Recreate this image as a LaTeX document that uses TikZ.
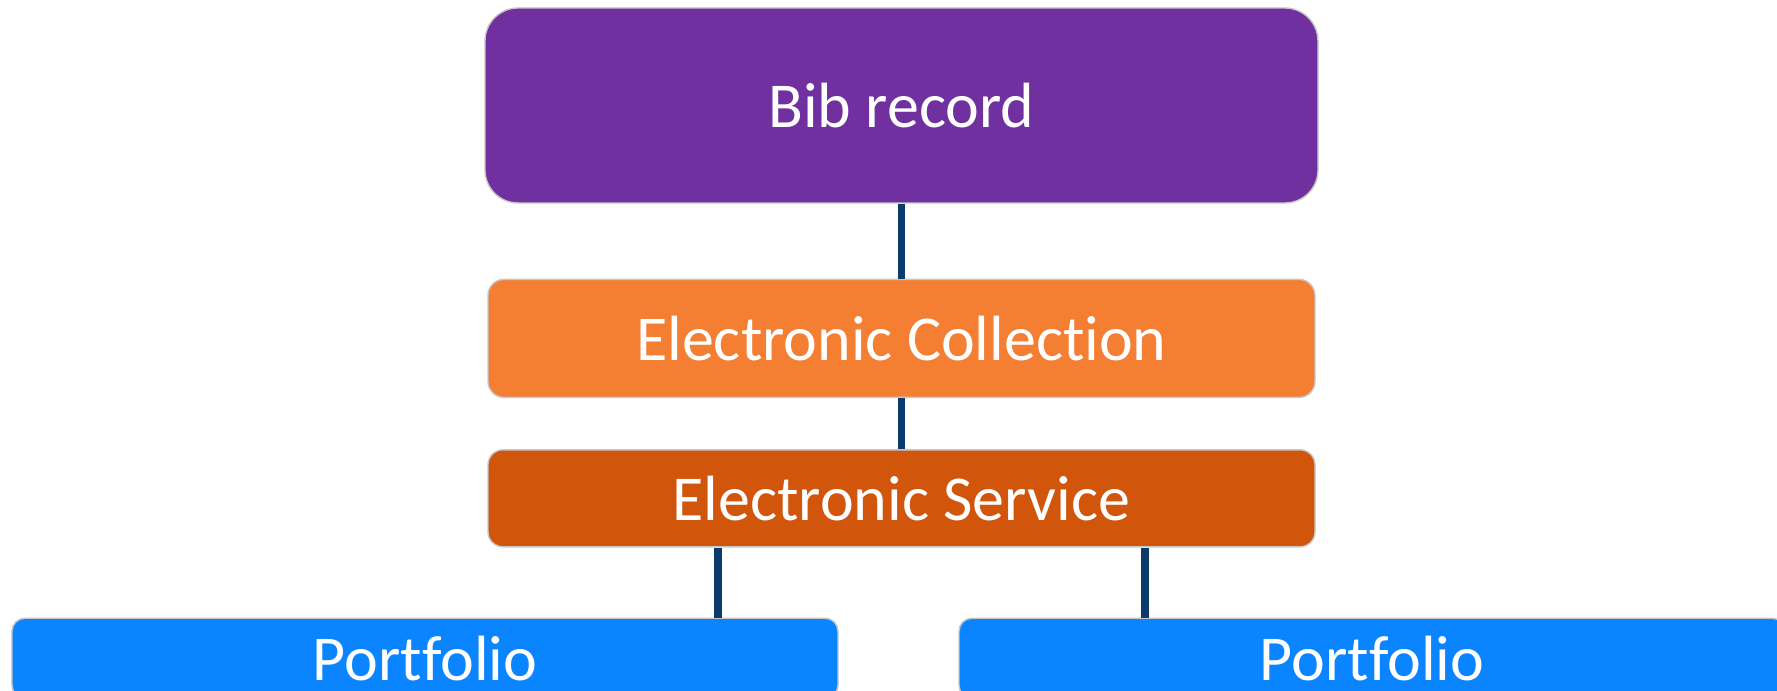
\documentclass[tikz,border=0pt]{standalone}
\usepackage{fontspec}
\setmainfont{Carlito}[Ligatures=NoCommon]
\usepackage{tikz}
\usetikzlibrary{positioning, calc}
\definecolor{bibpurple}{HTML}{7030A0}
\definecolor{collorange}{HTML}{F47E32}
\definecolor{servorange}{HTML}{D1560C}
\definecolor{portblue}{HTML}{0B85FF}
\definecolor{linknavy}{HTML}{0B3A6C}
\tikzset{
  tbox/.style={draw=black!22, line width=0.4pt, align=center, text=white,
    font=\fontsize{18.2}{22}\selectfont, inner sep=0pt},
  bibbox/.style={tbox, fill=bibpurple, rounded corners=0.33cm,
    minimum width=8.33cm, minimum height=1.95cm},
  collbox/.style={tbox, fill=collorange, rounded corners=0.16cm,
    minimum width=8.27cm, minimum height=1.18cm},
  servbox/.style={tbox, fill=servorange, rounded corners=0.15cm,
    minimum width=8.27cm, minimum height=0.97cm},
  portbox/.style={tbox, fill=portblue, rounded corners=0.13cm,
    minimum width=8.26cm, minimum height=0.80cm},
  link/.style={draw=linknavy, line width=2pt}
}
\begin{document}
\begin{tikzpicture}
\useasboundingbox (0,0) rectangle (17.77,-6.91);
\node[bibbox] (bib) at (9.015,-1.055) {Bib record};
\node[collbox, below=0.75cm of bib] (coll) {Electronic Collection};
\node[servbox, below=0.51cm of coll] (serv) {Electronic Service};
\node[portbox, below=0.70cm of serv, xshift=-4.765cm] (lport) {Portfolio};
\node[portbox, below=0.70cm of serv, xshift=4.705cm] (rport) {Portfolio};
\draw[link] (bib) -- (coll); \draw[link] (coll) -- (serv);
\draw[link] ([xshift=-1.835cm]serv.south) -- ([xshift=-1.835cm]serv.south |- lport.north);
\draw[link] ([xshift=2.435cm]serv.south) -- ([xshift=2.435cm]serv.south |- rport.north);
\end{tikzpicture}
\end{document}
